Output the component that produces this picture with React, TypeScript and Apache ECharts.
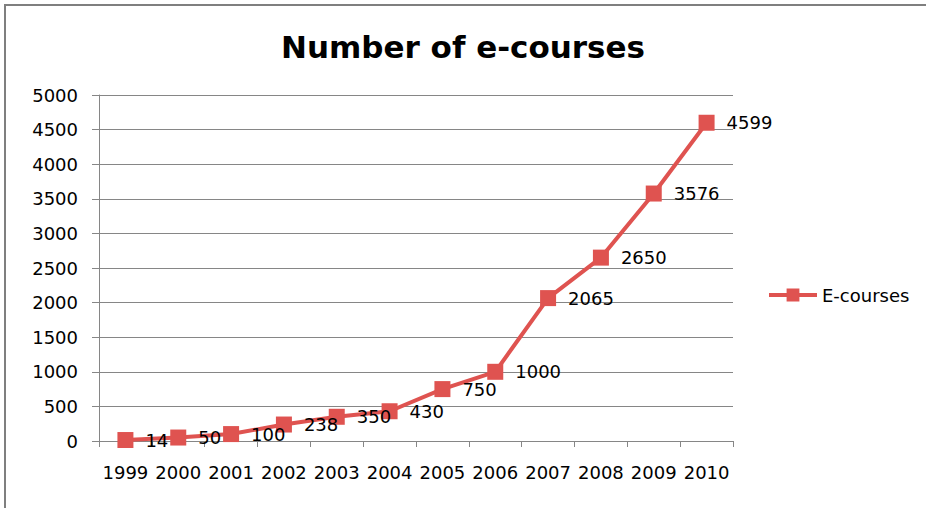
import React, { useEffect, useRef } from "react";
import * as echarts from "echarts";

const years = ["1999", "2000", "2001", "2002", "2003", "2004", "2005", "2006", "2007", "2008", "2009", "2010"];
const eCourses = [14, 50, 100, 238, 350, 430, 750, 1000, 2065, 2650, 3576, 4599];
const seriesName = "E-courses";
const titleText = "Number of e-courses";

const FONT = "DejaVu Sans";
const RED = "#DF5350";

export default function App() {
  const ref = useRef<HTMLDivElement>(null);
  useEffect(() => {
    const chart = echarts.init(ref.current!, null, { renderer: "svg" });
    chart.setOption({
      animation: false,
      backgroundColor: "#ffffff",
      title: {
        text: titleText,
        left: "center",
        top: 26,
        textStyle: { fontFamily: FONT, fontSize: 31, fontWeight: "bold", color: "#000" },
      },
      legend: {
        orient: "vertical",
        left: 762,
        top: 281,
        itemWidth: 48,
        itemHeight: 16,
        itemGap: 4,
        lineStyle: { width: 4 },
        textStyle: { fontFamily: FONT, fontSize: 18, color: "#000" },
        data: [seriesName],
      },
      graphic: [
        {
          type: "rect",
          shape: { x: 5, y: 5, width: 1000, height: 1000 },
          style: { fill: "none", stroke: "#7f7f7f", lineWidth: 2 },
          silent: true,
        },
      ],
      grid: { left: 99, right: 193, top: 95, bottom: 67 },
      xAxis: {
        type: "category",
        data: years,
        boundaryGap: true,
        axisLine: { lineStyle: { color: "#868686", width: 1 } },
        axisTick: { show: true, length: 6, alignWithLabel: false, lineStyle: { color: "#868686" } },
        axisLabel: { fontFamily: FONT, fontSize: 18, color: "#000", margin: 22, interval: 0 },
      },
      yAxis: {
        type: "value",
        min: 0,
        max: 5000,
        interval: 500,
        axisLine: { show: true, lineStyle: { color: "#868686", width: 1 } },
        axisTick: { show: true, length: 7, lineStyle: { color: "#868686" } },
        splitLine: { lineStyle: { color: "#868686", width: 1 } },
        axisLabel: {
          fontFamily: FONT,
          fontSize: 18,
          color: "#000",
          margin: 21,
          formatter: (v: number) => String(v),
        },
      },
      series: [
        {
          name: seriesName,
          type: "line",
          data: eCourses,
          symbol: "rect",
          symbolSize: 16,
          itemStyle: { color: RED },
          lineStyle: { color: RED, width: 4 },
          label: {
            show: true,
            position: "right",
            distance: 12,
            fontFamily: FONT,
            fontSize: 18,
            color: "#000",
          },
        },
      ],
    });
    return () => chart.dispose();
  }, []);
  return <div ref={ref} style={{ width: 926, height: 508, position: "absolute", left: 0, top: 0 }} />;
}
